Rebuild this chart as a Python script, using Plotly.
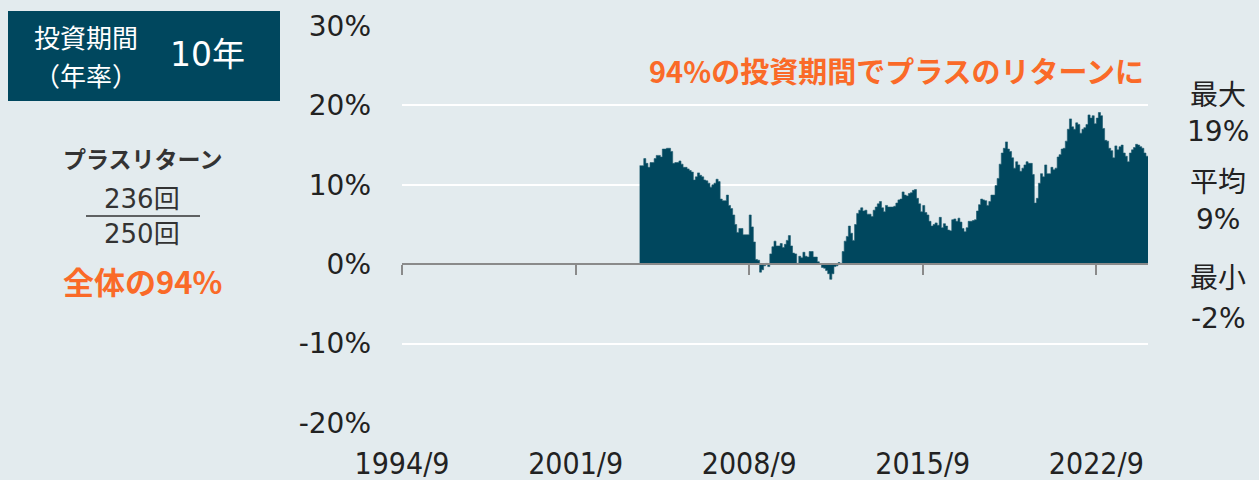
import pandas as pd
import plotly.graph_objects as go

# ---- data: 10-year annualised rolling return (%), monthly, from 2004/4 ----
start_month = "2004-04-01"
returns_pct = [
    12.4, 12.4, 13.3, 12.7, 12.2, 12.8, 12.8, 13.3, 13.7, 13.7,
    13.5, 14.5, 14.5, 14.6, 14.6, 14.2, 12.7, 12.8, 12.8, 13.0,
    12.6, 12.2, 12.2, 12.0, 11.8, 11.6, 10.6, 11.0, 11.5, 11.2,
    11.0, 10.6, 10.5, 10.2, 9.7, 10.0, 10.2, 10.7, 10.4, 8.2,
    8.0, 8.0, 8.7, 7.4, 7.0, 6.2, 5.0, 4.0, 4.5, 4.5,
    3.7, 3.7, 3.7, 6.2, 4.7, 2.8, 0.6, 0.5, -1.0, -0.7,
    -0.2, 0.1, -0.3, 1.3, 2.2, 2.9, 2.3, 2.3, 2.6, 2.1,
    2.5, 3.0, 3.6, 2.3, 1.4, 1.3, 0.1, 1.0, 0.8, 1.5,
    1.0, 0.9, 1.6, 1.6, 0.9, 0.9, 0.3, 0.0, -0.4, -0.5,
    -0.8, -1.2, -1.9, -1.2, -0.3, -0.2, 0.2, 0.1, 1.6, 2.9,
    3.5, 4.8, 3.9, 3.0, 5.0, 6.4, 6.8, 7.1, 6.7, 6.8,
    6.3, 6.3, 6.0, 6.8, 7.2, 7.6, 7.9, 7.1, 6.6, 7.4,
    7.2, 7.2, 7.2, 7.3, 7.7, 8.1, 8.2, 9.1, 8.7, 8.6,
    8.9, 9.0, 9.3, 9.4, 8.3, 7.6, 6.6, 7.4, 6.5, 6.2,
    5.4, 4.8, 5.0, 5.2, 4.9, 5.9, 4.6, 5.1, 4.8, 4.3,
    4.2, 5.6, 5.7, 5.4, 5.8, 5.3, 4.5, 4.1, 4.6, 5.4,
    5.4, 5.5, 5.6, 6.7, 7.5, 8.2, 8.1, 8.0, 7.4, 7.9,
    8.7, 8.7, 9.9, 10.8, 12.6, 14.0, 14.6, 15.4, 14.5, 14.2,
    13.4, 12.1, 12.9, 12.5, 11.7, 12.1, 12.5, 12.9, 12.7, 12.7,
    11.3, 7.7, 8.3, 10.2, 11.4, 11.0, 12.5, 11.4, 11.4, 12.2,
    11.9, 12.1, 13.5, 13.8, 14.5, 14.6, 15.5, 17.0, 18.3, 17.3,
    17.0, 17.8, 17.6, 16.5, 17.0, 17.2, 17.6, 18.8, 18.4, 18.7,
    17.7, 18.4, 19.1, 18.7, 17.1, 15.6, 15.5, 14.6, 14.3, 13.4,
    14.9, 14.4, 14.8, 15.0, 14.0, 13.6, 12.9, 14.0, 14.4, 14.7,
    15.1, 15.0, 14.8, 14.6, 14.0, 13.6,
]

x_range = ["1994-09-01", "2024-10-01"]
xtick_dates = ["1994-09-01", "2001-09-01", "2008-09-01", "2015-09-01", "2022-09-01"]
xtick_text = ["1994/9", "2001/9", "2008/9", "2015/9", "2022/9"]
ytick_vals = [-20, -10, 0, 10, 20, 30]
ytick_text = ["-20%", "-10%", "0%", "10%", "20%", "30%"]

stats_labels = ["最大", "19%", "平均", "9%", "最小", "-2%"]
title_text = "94%の投資期間でプラスのリターンに"
period_label = ["投資期間", "（年率）"]
period_value = "10年"
plus_title = "プラスリターン"
plus_count = "236回"
total_count = "250回"
plus_share = "全体の94%"

# ---- styles ----
BG = "#E3EBEE"
TEAL = "#00475E"
ORANGE = "#FA6A28"
DARK = "#222222"
GRAY = "#8A8A8A"
NUM_FONT = "'DejaVu Sans', 'Noto Sans CJK JP', sans-serif"
JP_FONT = "'Noto Sans CJK JP', sans-serif"
COND_FONT = "'DejaVu Sans Condensed', 'DejaVu Sans', sans-serif"

W, H = 1259, 480
L, R, T, B = 402, 1148, 26, 423  # plot area in px


def px(xp):
    return (xp - L) / (R - L)


def py(yp):
    return (B - yp) / (B - T)


dates = pd.date_range(start_month, periods=len(returns_pct), freq="MS")
# one extra step end so the last month has width
step_x = list(dates) + [dates[-1] + pd.offsets.MonthBegin(1)]
step_y = list(returns_pct) + [returns_pct[-1]]

fig = go.Figure()
fig.add_trace(go.Scatter(
    x=step_x, y=step_y, mode="lines", line=dict(shape="hv", width=0.6, color="#1d5a6e"),
    fill="tozeroy", fillcolor=TEAL, hoverinfo="skip", showlegend=False,
))
# invisible trace to carry the zero-line axis with ticks
fig.add_trace(go.Scatter(x=[x_range[0]], y=[0], xaxis="x2", mode="markers",
                         marker=dict(opacity=0), showlegend=False, hoverinfo="skip"))

fig.update_layout(
    width=W, height=H,
    paper_bgcolor=BG, plot_bgcolor=BG,
    margin=dict(l=L, r=W - R, t=T, b=H - B, pad=0, autoexpand=False),
    xaxis=dict(
        type="date", range=x_range, tickvals=xtick_dates, ticktext=xtick_text,
        showgrid=False, zeroline=False, showline=False, ticks="", automargin=False,
        tickfont=dict(family=COND_FONT, size=30, color=DARK),
        ticklabelstandoff=20,
    ),
    xaxis2=dict(
        type="date", overlaying="x", matches="x", anchor="free",
        position=(0 - ytick_vals[0]) / (ytick_vals[-1] - ytick_vals[0]),
        tickvals=xtick_dates, showticklabels=False, automargin=False,
        ticks="outside", ticklen=10, tickwidth=2, tickcolor=GRAY,
        showline=True, linecolor=GRAY, linewidth=2, showgrid=False, zeroline=False,
    ),
    yaxis=dict(
        range=[ytick_vals[0], ytick_vals[-1]], tickvals=ytick_vals, ticktext=ytick_text,
        showgrid=True, gridcolor="white", gridwidth=2, zeroline=False, showline=False,
        ticks="", ticklabelstandoff=30, automargin=False,
        tickfont=dict(family=NUM_FONT, size=28, color=DARK),
    ),
)

ann = []
# title
ann.append(dict(x=px(1145), y=py(70), xanchor="right", yanchor="middle", text=f"<b>{title_text}</b>",
                font=dict(family=JP_FONT, size=29, color=ORANGE)))
# right stats
stat_y = [95, 131, 183, 219, 278, 318]
for lab, yy in zip(stats_labels, stat_y):
    ann.append(dict(x=px(1218), y=py(yy), xanchor="center", yanchor="middle", text=lab,
                    font=dict(family=NUM_FONT, size=28, color=DARK)))
# left box
fig.add_shape(type="rect", xref="paper", yref="paper", x0=px(8), x1=px(280), y0=py(101), y1=py(11),
              fillcolor=TEAL, line=dict(width=0), layer="above")
ann.append(dict(x=px(86), y=py(37), xanchor="center", yanchor="middle", text=period_label[0],
                font=dict(family=JP_FONT, size=26, color="white")))
ann.append(dict(x=px(86), y=py(74), xanchor="center", yanchor="middle", text=period_label[1],
                font=dict(family=JP_FONT, size=26, color="white")))
ann.append(dict(x=px(207), y=py(55), xanchor="center", yanchor="middle", text=period_value,
                font=dict(family=NUM_FONT, size=33, color="white")))
# plus-return summary
ann.append(dict(x=px(142), y=py(158), xanchor="center", yanchor="middle", text=f"<b>{plus_title}</b>",
                font=dict(family=JP_FONT, size=23, color="#333333")))
ann.append(dict(x=px(142), y=py(199), xanchor="center", yanchor="middle", text=plus_count,
                font=dict(family=NUM_FONT, size=26, color="#333333")))
ann.append(dict(x=px(142), y=py(234), xanchor="center", yanchor="middle", text=total_count,
                font=dict(family=NUM_FONT, size=26, color="#333333")))
fig.add_shape(type="line", xref="paper", yref="paper", x0=px(86), x1=px(200), y0=py(216), y1=py(216),
              line=dict(color="#333333", width=1.5))
ann.append(dict(x=px(142), y=py(280), xanchor="center", yanchor="middle", text=f"<b>{plus_share}</b>",
                font=dict(family=JP_FONT, size=31, color=ORANGE)))

for a in ann:
    a.update(xref="paper", yref="paper", showarrow=False, borderpad=0)
fig.update_layout(annotations=ann)

fig.write_html("out.html", config={"displayModeBar": False},
               post_script="document.body.style.margin='0';")
